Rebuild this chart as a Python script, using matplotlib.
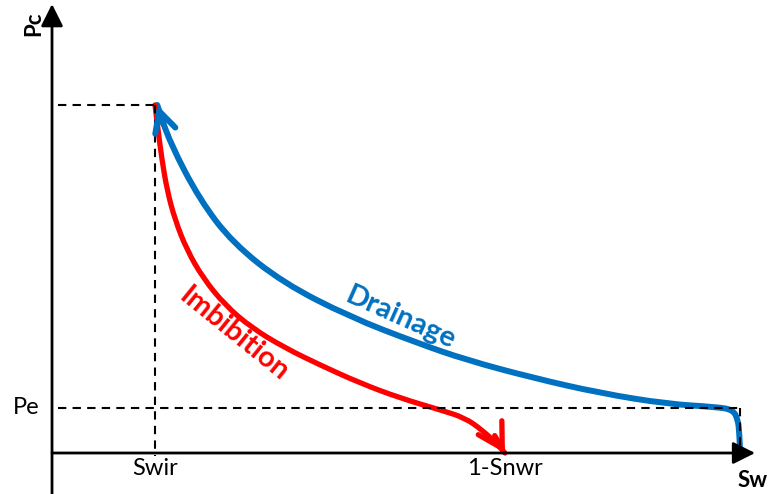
import matplotlib
matplotlib.use("Agg")
import matplotlib.pyplot as plt
from matplotlib.path import Path
from matplotlib.patches import PathPatch

plt.rcParams['font.family'] = ['Lato', 'DejaVu Sans']

# Data (Sw fraction, Pc normalised to Pc at Swir)
swir = 0.15
one_minus_snwr = 0.658
pe = 0.13

drain_sw = [1.000, 0.999, 0.997, 0.990, 0.967, 0.894, 0.797, 0.699, 0.603, 0.531,
            0.433, 0.336, 0.263, 0.215, 0.1715, 0.153]
drain_pc = [0.014, 0.060, 0.095, 0.124, 0.132, 0.141, 0.172, 0.216, 0.267, 0.316,
            0.391, 0.489, 0.603, 0.727, 0.891, 1.000]

imb_sw = [0.1497, 0.1541, 0.1599, 0.1672, 0.1788, 0.1962, 0.2195, 0.2515, 0.2907,
          0.3387, 0.3895, 0.4477, 0.5058, 0.5640, 0.6003, 0.6250, 0.6439, 0.6584]
imb_pc = [1.000, 0.928, 0.842, 0.756, 0.670, 0.583, 0.503, 0.425, 0.359,
          0.302, 0.253, 0.201, 0.158, 0.124, 0.101, 0.066, 0.032, 0.000]

x_labels = ["Swir", "1-Snwr"]
y_labels = ["Pe"]

BLUE = "#0070C0"
RED = "#FF0000"


def smooth_path(xs, ys):
    """Quadratic-Bezier path through the given vertices (rendered smoothly)."""
    pts = list(zip(xs, ys))
    verts = [pts[0]]
    codes = [Path.MOVETO]
    for i in range(1, len(pts) - 1):
        mid = ((pts[i][0] + pts[i + 1][0]) / 2, (pts[i][1] + pts[i + 1][1]) / 2)
        verts += [pts[i], mid]
        codes += [Path.CURVE3, Path.CURVE3]
    verts.append(pts[-1])
    codes.append(Path.LINETO)
    return Path(verts, codes)


fig = plt.figure(figsize=(7.69, 4.94), dpi=100)
ax = fig.add_axes([0, 0, 1, 1])
ax.set_xlim(-0.0756, 1.0422)
ax.set_ylim(-0.1178, 1.3017)
ax.axis('off')

# axes with arrows
ax.annotate('', xy=(1.022, 0), xytext=(0, 0),
            arrowprops=dict(arrowstyle='-|>,head_length=0.9,head_width=0.45',
                            lw=2.0, color='black', mutation_scale=15,
                            shrinkA=0, shrinkB=0))
ax.annotate('', xy=(0, 1.290), xytext=(0, -0.1178),
            arrowprops=dict(arrowstyle='-|>,head_length=0.9,head_width=0.45',
                            lw=2.0, color='black', mutation_scale=15,
                            shrinkA=0, shrinkB=0))

# dashed guide lines
dkw = dict(color='black', lw=1.5, dashes=(4, 3))
ax.plot([0.008, swir], [1.0, 1.0], **dkw)
ax.plot([swir, swir], [1.0, -0.01], **dkw)
ax.plot([0.008, 1.0], [pe, pe], **dkw)
ax.plot([1.0, 1.0], [pe, 0.0], **dkw)

# curves
ax.add_patch(PathPatch(smooth_path(drain_sw, drain_pc), fill=False,
                       edgecolor=BLUE, lw=4.3, capstyle='round', joinstyle='round'))
ax.add_patch(PathPatch(smooth_path(imb_sw, imb_pc), fill=False,
                       edgecolor=RED, lw=3.8, capstyle='round', joinstyle='round'))

# arrow heads
ax.annotate('', xy=(drain_sw[-1], drain_pc[-1]), xytext=(0.1617, 0.945),
            arrowprops=dict(arrowstyle='->,head_length=0.7,head_width=0.36',
                            lw=4.3, color=BLUE, mutation_scale=21,
                            shrinkA=0, shrinkB=0))
ax.annotate('', xy=(imb_sw[-1], imb_pc[-1]), xytext=(0.6435, 0.05),
            arrowprops=dict(arrowstyle='->,head_length=0.72,head_width=0.41',
                            lw=3.8, color=RED, mutation_scale=24,
                            shrinkA=0, shrinkB=0))

# labels
ax.text(-0.026, 1.234, "Pc", rotation=90, ha='center', va='center',
        fontsize=16, fontweight='bold')
ax.text(1.019, -0.078, "Sw", ha='center', va='center', fontsize=16,
        fontweight='bold')
ax.text(swir, -0.045, x_labels[0], ha='center', va='center', fontsize=17)
ax.text(one_minus_snwr, -0.045, x_labels[1], ha='center', va='center', fontsize=17)
ax.text(-0.038, pe, y_labels[0], ha='center', va='center', fontsize=17)

ax.text(0.506, 0.388, "Drainage", rotation=-24, ha='center', va='center',
        fontsize=21, fontweight='bold', color=BLUE, rotation_mode='anchor')
ax.text(0.2645, 0.342, "Imbibition", rotation=-39, ha='center', va='center',
        fontsize=21, fontweight='bold', color=RED, rotation_mode='anchor')

fig.savefig("out.png", dpi=100)
